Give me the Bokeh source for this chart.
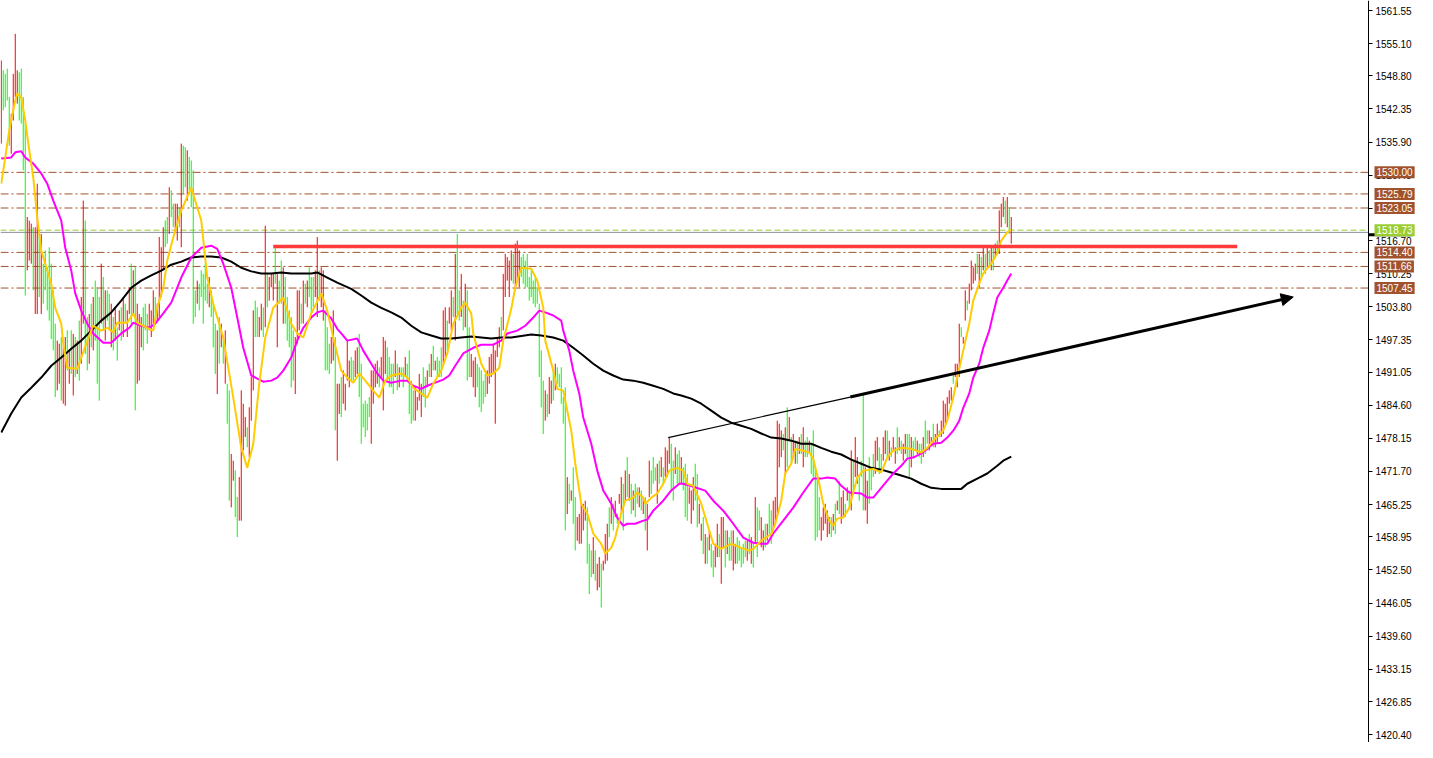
from bokeh.plotting import figure
from bokeh.models import Label, Arrow, NormalHead, FixedTicker, PrintfTickFormatter, Range1d
from bokeh.embed import file_html
from bokeh.resources import INLINE

# ---------------- data (prices) ----------------
bar_high = [
    1551.8, 1549.9, 1549.2, 1550.2, 1544.7, 1541.4, 1549.2, 1557.0, 1549.9, 1549.5,
    1550.2, 1544.7, 1539.5, 1521.3, 1520.6, 1520.0, 1519.3, 1519.3, 1527.8, 1518.7,
    1518.0, 1512.2, 1514.8, 1511.5, 1515.4, 1512.2, 1507.0, 1500.5, 1497.2, 1496.6,
    1497.9, 1495.9, 1497.9, 1499.2, 1495.3, 1499.2, 1498.5, 1497.9, 1497.2, 1501.1,
    1505.7, 1524.5, 1520.6, 1501.8, 1502.4, 1504.4, 1505.7, 1508.9, 1507.6, 1505.7,
    1512.2, 1509.6, 1507.0, 1507.0, 1506.3, 1504.4, 1501.8, 1503.7, 1499.8, 1503.1,
    1503.7, 1505.7, 1504.4, 1503.1, 1507.6, 1512.2, 1510.9, 1511.5, 1504.4, 1502.4,
    1501.8, 1503.7, 1504.4, 1502.4, 1504.4, 1503.1, 1507.0, 1505.7, 1504.4, 1517.4,
    1515.4, 1519.3, 1520.6, 1521.3, 1527.1,
    1526.5, 1523.9, 1523.9, 1523.9, 1523.2, 1535.6, 1535.2, 1534.9, 1534.3, 1533.0,
    1532.3, 1530.4, 1507.0, 1508.9, 1508.3, 1510.9, 1510.2, 1512.2, 1508.3, 1509.6,
    1507.0, 1504.4, 1500.5, 1499.2, 1501.8, 1500.5, 1497.2, 1499.2, 1488.8, 1487.5,
    1475.1, 1473.8, 1471.9, 1466.7, 1470.6, 1487.5, 1484.9, 1482.3, 1480.3, 1484.2,
    1490.1, 1503.1, 1505.0, 1503.7, 1501.8, 1504.4, 1503.7, 1519.6, 1510.2, 1509.6,
    1510.2, 1510.2, 1515.4, 1510.2, 1508.9, 1512.8, 1511.5, 1509.6, 1505.7, 1503.1,
    1501.8, 1499.2, 1497.9, 1507.0, 1507.0, 1504.4, 1508.9, 1508.3, 1508.9, 1511.5,
    1509.6, 1509.6, 1510.9, 1517.4, 1510.9, 1511.5, 1510.9, 1503.1, 1499.8, 1496.6,
    1497.9, 1503.1, 1497.9, 1488.8, 1488.8,
    1490.1, 1491.4, 1488.8, 1497.2, 1493.3, 1494.0, 1493.3, 1495.3, 1495.9, 1498.5,
    1492.7, 1484.9, 1485.5, 1484.9, 1486.2, 1491.4, 1491.4, 1492.7, 1493.3, 1492.0,
    1494.0, 1497.9, 1497.2, 1495.9, 1494.0, 1492.7, 1492.7, 1495.3, 1492.7, 1492.0,
    1492.0, 1492.0, 1494.0, 1492.7, 1495.3, 1489.4, 1487.5, 1488.1, 1486.2, 1490.7,
    1488.8, 1492.0, 1490.1, 1491.4, 1492.7, 1494.6, 1496.2, 1493.3, 1494.0, 1493.3,
    1495.9, 1503.1, 1503.7, 1501.1, 1503.7, 1507.0, 1505.7, 1514.1, 1518.0, 1507.0,
    1510.2, 1505.0, 1508.3, 1507.0, 1499.8, 1494.6, 1493.3, 1494.0, 1492.7, 1492.0,
    1491.4, 1489.4, 1490.7, 1491.4, 1494.0, 1494.6, 1496.6, 1495.3, 1497.9, 1499.8,
    1501.8, 1510.2, 1514.1, 1513.5, 1512.8,
    1514.8, 1514.1, 1516.1, 1516.7, 1514.8, 1513.5, 1514.1, 1512.8, 1514.1, 1509.6,
    1510.9, 1508.9, 1509.6, 1507.6, 1504.4, 1495.3, 1489.4, 1487.5, 1486.8, 1490.1,
    1489.4, 1491.4, 1492.7, 1492.0, 1490.7, 1492.0, 1486.2, 1488.1, 1470.6, 1469.3,
    1468.0, 1472.5, 1466.7, 1462.8, 1463.4, 1465.4, 1465.4, 1466.0, 1464.7, 1457.6,
    1456.3, 1458.9, 1456.3, 1453.7, 1455.0, 1453.7, 1454.3, 1459.5, 1461.5, 1464.7,
    1466.7, 1465.4, 1466.0, 1463.4, 1467.3, 1470.6, 1469.3, 1471.9, 1474.5, 1471.2,
    1469.3, 1468.0, 1469.3, 1468.6, 1468.6, 1468.0, 1466.7, 1466.7, 1465.4, 1473.8,
    1471.9, 1474.5, 1472.5, 1473.2, 1473.8, 1474.5, 1472.5, 1476.4, 1475.8, 1478.4,
    1477.1, 1473.8, 1476.4, 1475.1, 1475.8,
    1474.5, 1472.5, 1473.2, 1471.2, 1468.6, 1468.0, 1470.6, 1473.2, 1471.2, 1465.4,
    1461.5, 1462.8, 1459.5, 1458.9, 1460.2, 1457.6, 1456.3, 1457.6, 1461.5, 1459.5,
    1462.8, 1462.8, 1460.2, 1460.2, 1458.9, 1460.2, 1460.2, 1457.6, 1458.9, 1458.2,
    1456.9, 1457.6, 1458.2, 1458.2, 1459.5, 1458.9, 1457.6, 1466.7, 1464.7, 1464.1,
    1462.8, 1460.2, 1461.5, 1461.5, 1465.4, 1464.1, 1466.0, 1466.7, 1481.6, 1481.0,
    1479.7, 1479.0, 1480.3, 1484.2, 1482.3, 1478.4, 1479.0, 1477.7, 1477.7, 1478.4,
    1479.0, 1480.3, 1477.7, 1478.4, 1477.7, 1477.1, 1479.7, 1472.5, 1470.6, 1466.7,
    1462.8, 1464.7, 1465.4, 1464.1, 1462.8, 1462.8, 1463.4, 1465.4, 1466.0, 1469.9,
    1466.7, 1468.0, 1465.4, 1468.6, 1468.0,
    1475.8, 1473.8, 1478.4, 1474.5, 1470.6, 1473.8, 1486.8, 1472.5, 1469.9, 1474.5,
    1472.5, 1475.1, 1477.7, 1478.4, 1476.4, 1475.1, 1478.4, 1479.7, 1479.7, 1477.7,
    1476.4, 1478.4, 1476.4, 1480.3, 1478.4, 1477.7, 1477.1, 1479.0, 1479.0, 1479.0,
    1478.4, 1477.7, 1478.4, 1477.7, 1477.1, 1477.1, 1478.4, 1481.6, 1479.7, 1479.7,
    1478.4, 1481.0, 1479.0, 1481.0, 1479.7, 1481.6, 1485.5, 1484.9, 1486.2, 1487.5,
    1488.1, 1490.7, 1492.7, 1492.7, 1500.5, 1499.8, 1497.9, 1507.0, 1505.0, 1508.3,
    1512.8, 1511.5, 1512.2, 1514.1, 1514.1, 1513.5, 1515.4, 1514.1, 1515.4, 1514.8,
    1515.4, 1515.4, 1516.1, 1516.7, 1522.6, 1523.9, 1525.2, 1524.5, 1525.2, 1523.2,
    1521.3,
]

bar_low = [
    1535.6, 1542.1, 1542.7, 1544.0, 1535.2, 1533.6, 1540.1, 1544.7, 1543.4, 1540.1,
    1539.5, 1530.4, 1506.0, 1510.9, 1512.8, 1512.2, 1507.0, 1502.4, 1502.4, 1505.7,
    1502.4, 1504.4, 1507.0, 1503.1, 1501.1, 1497.5, 1495.3, 1486.2, 1487.5, 1488.8,
    1485.5, 1484.9, 1484.5, 1491.4, 1488.8, 1490.7, 1486.5, 1490.1, 1490.7, 1489.4,
    1492.7, 1500.5, 1494.6, 1491.4, 1492.7, 1495.9, 1495.3, 1497.2, 1488.8, 1485.5,
    1500.5, 1499.2, 1497.2, 1501.1, 1499.2, 1495.9, 1495.3, 1497.2, 1493.3, 1499.2,
    1497.2, 1497.9, 1500.5, 1497.9, 1502.4, 1500.5, 1502.4, 1483.6, 1488.8, 1489.4,
    1495.9, 1495.3, 1499.2, 1496.6, 1499.2, 1497.9, 1500.5, 1500.5, 1501.1, 1501.8,
    1505.7, 1510.9, 1515.4, 1516.1, 1518.0,
    1521.3, 1519.3, 1518.7, 1516.7, 1519.3, 1515.4, 1525.8, 1527.1, 1524.5, 1526.5,
    1523.2, 1500.5, 1501.8, 1504.4, 1503.1, 1505.7, 1500.5, 1505.0, 1504.4, 1503.7,
    1501.8, 1495.9, 1490.7, 1486.8, 1492.7, 1495.9, 1492.7, 1488.8, 1481.0, 1466.0,
    1464.7, 1469.9, 1462.8, 1458.9, 1462.1, 1462.1, 1475.8, 1478.4, 1476.4, 1474.5,
    1481.6, 1487.5, 1497.9, 1497.9, 1497.9, 1499.2, 1497.9, 1499.8, 1503.7, 1505.0,
    1507.6, 1505.0, 1508.3, 1495.9, 1504.4, 1504.4, 1500.5, 1500.5, 1497.2, 1495.9,
    1488.1, 1489.4, 1486.8, 1496.6, 1499.2, 1500.5, 1500.5, 1504.4, 1503.7, 1505.7,
    1501.8, 1503.7, 1505.7, 1501.8, 1505.0, 1503.7, 1501.1, 1491.4, 1491.4, 1490.7,
    1492.7, 1493.3, 1479.7, 1473.8, 1482.9,
    1482.3, 1484.9, 1483.6, 1489.4, 1488.1, 1489.4, 1489.4, 1490.1, 1490.7, 1486.2,
    1477.1, 1480.3, 1478.4, 1479.7, 1482.3, 1477.1, 1484.9, 1488.1, 1488.8, 1488.1,
    1490.1, 1483.6, 1490.7, 1489.4, 1488.1, 1488.1, 1486.8, 1490.1, 1487.5, 1488.1,
    1490.1, 1488.1, 1490.1, 1489.4, 1482.9, 1481.0, 1481.6, 1481.6, 1483.6, 1485.5,
    1482.3, 1486.2, 1484.2, 1488.1, 1490.1, 1490.1, 1491.4, 1491.4, 1490.1, 1490.1,
    1490.1, 1492.7, 1494.0, 1495.3, 1500.5, 1499.2, 1501.8, 1497.2, 1502.4, 1501.1,
    1501.8, 1499.2, 1499.8, 1489.4, 1490.1, 1490.1, 1488.1, 1486.2, 1488.1, 1484.2,
    1483.3, 1484.9, 1486.2, 1486.8, 1488.8, 1490.1, 1490.7, 1481.0, 1494.0, 1495.9,
    1497.9, 1499.2, 1505.7, 1508.9, 1505.7,
    1508.9, 1508.3, 1507.0, 1508.9, 1507.6, 1509.6, 1508.3, 1507.6, 1507.6, 1505.0,
    1505.7, 1504.4, 1503.7, 1504.4, 1490.1, 1484.2, 1479.0, 1481.6, 1482.3, 1482.9,
    1484.9, 1485.5, 1487.5, 1488.8, 1488.1, 1484.9, 1481.0, 1460.2, 1463.4, 1465.4,
    1466.0, 1461.5, 1456.3, 1458.2, 1457.6, 1457.6, 1460.2, 1462.1, 1453.7, 1447.8,
    1451.1, 1451.7, 1450.4, 1448.5, 1449.1, 1445.2, 1452.4, 1453.7, 1454.3, 1458.9,
    1461.5, 1460.2, 1462.8, 1461.5, 1465.4, 1463.4, 1460.2, 1466.0, 1466.7, 1466.0,
    1463.4, 1464.1, 1462.8, 1465.4, 1464.7, 1464.1, 1463.4, 1460.2, 1456.3, 1466.7,
    1467.3, 1469.3, 1469.9, 1465.4, 1469.3, 1470.6, 1469.3, 1470.6, 1470.6, 1473.2,
    1468.0, 1466.0, 1471.2, 1469.3, 1469.3,
    1469.3, 1468.0, 1462.8, 1462.1, 1465.4, 1461.5, 1464.1, 1466.0, 1460.8, 1461.5,
    1458.2, 1455.6, 1453.7, 1453.7, 1456.3, 1453.0, 1451.1, 1453.0, 1455.0, 1455.0,
    1449.8, 1456.9, 1453.0, 1455.6, 1454.3, 1454.3, 1452.4, 1453.7, 1453.7, 1454.3,
    1453.0, 1453.7, 1455.0, 1454.3, 1455.6, 1453.7, 1453.0, 1457.6, 1455.0, 1460.2,
    1456.9, 1456.3, 1456.9, 1458.2, 1459.5, 1457.6, 1460.2, 1461.5, 1462.8, 1472.5,
    1474.5, 1475.8, 1471.2, 1472.5, 1477.7, 1473.2, 1474.5, 1473.2, 1473.2, 1475.1,
    1475.1, 1472.5, 1474.5, 1474.5, 1475.1, 1471.2, 1470.6, 1458.2, 1458.9, 1460.2,
    1458.2, 1460.2, 1461.5, 1458.9, 1459.5, 1458.9, 1460.2, 1459.5, 1464.1, 1463.4,
    1461.5, 1462.8, 1462.8, 1466.0, 1464.7,
    1464.1, 1467.3, 1470.6, 1469.3, 1466.0, 1470.6, 1464.1, 1464.1, 1461.5, 1465.4,
    1468.0, 1470.6, 1471.2, 1473.8, 1471.2, 1471.9, 1473.8, 1475.1, 1474.5, 1473.8,
    1474.5, 1475.8, 1473.2, 1475.1, 1475.8, 1475.1, 1473.8, 1475.1, 1474.5, 1470.6,
    1472.5, 1474.5, 1475.8, 1475.1, 1474.5, 1473.2, 1474.5, 1475.1, 1477.1, 1475.8,
    1477.1, 1476.4, 1476.4, 1477.1, 1478.4, 1478.4, 1479.0, 1481.0, 1481.6, 1484.9,
    1485.5, 1488.8, 1490.1, 1488.1, 1490.1, 1497.9, 1496.6, 1501.1, 1503.1, 1504.4,
    1507.0, 1508.3, 1508.9, 1510.2, 1507.6, 1509.6, 1510.9, 1510.2, 1511.5, 1511.5,
    1510.9, 1510.9, 1513.5, 1514.1, 1514.1, 1519.3, 1521.3, 1520.0, 1519.3, 1518.0,
    1516.1,
]

# G = up bar (green), R = down bar (red)
bar_dir = (
    "RGGGGRRRRG" "GGGRRRGRRG" "RGGGGGGGRR" "GRRGRGRGRG" "RRGGRGRGGG" "RGRGGRGRGR" "GRGRRGRGRR" "RGGGRRRGRR" "RRGGR"
    "GGRRGRGGRG" "GGGRGGGGGR" "GGGRGRGRGG" "RRGGRRRRGR" "RRGGRRGRGR" "RRGRGGRGGG" "GGRRRGRGRG" "GGRRGRRGGG" "RRGRR"
    "GRRRRGGRRG" "GGGGGRRRRG" "RRRGGGGRGR" "GGRGGGGRRR" "RGGRGRGRGG" "GRRGRRGRGG" "RGRGGRRRGG" "GGGRRRRRRR" "GRRRR"
    "RGRRRGGGGG" "GGGGGGGRGR" "RGRGGGGGRG" "RGGRRRRRGG" "GRGRRGRRRG" "RGRGRRGRGR" "GRGGRGRGRR" "GGGRGRGRRR" "GGRGG"
    "RGGGRRRGGR" "RGRGRGGRRG" "RRGRGGRRGG" "GGGRGRGRGG" "RRGRGGRRRR" "RGRGRGRRGR" "GRGGRGGGGG" "RRRRRGRGRG" "RRGRG"
    "RGRRGGGRRG" "GGRRGGRRGR" "GRRGRGRRGG" "RGGRGGRGGR" "RGRRGRRRRR" "RGRRRGRRGR" "RRRGRGRGRG" "RGRGRRRGRG" "R"
)

# fast moving average (yellow)
ma_fast_x = [0, 2, 4, 7, 8, 10, 12, 14, 16, 18, 20, 22, 25, 27, 30, 31, 33, 38, 40, 43, 46, 50, 53, 56, 58, 63,
             66, 68, 73, 76, 78, 81, 83, 86, 90, 95, 100, 103, 106, 111, 116, 120, 123, 126, 129, 132, 136, 141,
             145, 148, 151, 155, 160, 163, 166, 170, 173, 176, 179, 182, 186, 189, 192, 195, 200, 203, 206, 210,
             213, 216, 220, 223, 226, 230, 232, 235, 236, 240, 243, 246, 249, 251, 255, 257, 260, 265, 268, 271,
             272, 276, 278, 281, 285, 287, 290, 293, 296, 300, 302, 305, 307, 310, 312, 316, 318, 321, 322, 325,
             328, 331, 334, 338, 341, 343, 346, 350, 353, 356, 360, 365, 370, 374, 376, 380, 385, 387, 390, 392,
             395, 397, 401, 404, 406, 409, 411, 414, 416, 418, 421, 424, 428, 431, 436, 440, 443, 446, 450, 455,
             460, 463, 466, 471, 473, 476, 478, 481, 484, 486, 489, 491, 495, 498, 500, 503, 505]
ma_fast_y = [1527.8, 1532.9, 1538.2, 1544.0, 1545.4, 1544.6, 1540.1, 1534.3, 1529.0, 1521.2, 1514.75, 1512.2,
             1508.3, 1503.6, 1500.5, 1496.6, 1491.9, 1491.7, 1493.9, 1497.2, 1500.1, 1499.15, 1499.7, 1498.8,
             1500.7, 1500.7, 1502.5, 1500.7, 1499.7, 1499.15, 1503.6, 1507.5, 1512.8, 1517.3, 1522.55, 1527.0,
             1520.6, 1509.5, 1504.4, 1497.8, 1486.1, 1476.3, 1472.4, 1477.1, 1488.8, 1497.8, 1503.6, 1505.6,
             1500.5, 1498.6, 1497.8, 1502.5, 1506.4, 1503.05, 1497.8, 1491.35, 1490.0, 1489.0, 1490.8, 1489.4,
             1487.45, 1486.1, 1489.4, 1490.4, 1490.8, 1490.0, 1488.0, 1486.9, 1486.1, 1488.8, 1491.35, 1494.7,
             1500.5, 1503.6, 1504.6, 1502.5, 1498.6, 1492.7, 1490.4, 1490.8, 1491.9, 1497.2, 1503.4, 1507.5,
             1511.4, 1511.2, 1508.9, 1503.6, 1497.2, 1491.35, 1487.8, 1487.45, 1479.65, 1473.2, 1465.4, 1463.5,
             1459.6, 1457.6, 1455.7, 1456.8, 1458.8, 1463.5, 1466.0, 1466.6, 1467.6, 1466.6, 1465.4, 1466.6,
             1467.4, 1469.3, 1471.85, 1472.4, 1471.85, 1469.3, 1468.9, 1465.4, 1461.5, 1457.6, 1456.6, 1457.6,
             1456.8, 1456.25, 1456.6, 1458.2, 1459.5, 1461.5, 1466.0, 1471.3, 1473.2, 1476.1, 1475.75, 1475.4,
             1474.2, 1469.3, 1465.4, 1462.1, 1461.1, 1462.5, 1462.7, 1464.6, 1470.5, 1471.85, 1472.2, 1471.5,
             1474.4, 1475.75, 1476.3, 1476.1, 1475.4, 1476.3, 1477.7, 1479.65, 1481.6, 1486.1, 1490.0, 1495.25,
             1500.5, 1505.0, 1508.3, 1510.3, 1512.2, 1514.2, 1516.7, 1518.3, 1518.85]

# medium moving average (magenta)
ma_mid_x = [0, 5, 7, 10, 12, 16, 20, 23, 26, 30, 32, 35, 37, 40, 43, 46, 51, 55, 60, 64, 66, 70, 74, 77, 81, 85,
            90, 95, 100, 105, 108, 111, 115, 118, 121, 125, 128, 131, 135, 138, 141, 145, 148, 151, 155, 158, 161,
            165, 168, 170, 173, 178, 181, 185, 188, 191, 195, 200, 203, 206, 210, 213, 217, 221, 224, 227, 231,
            236, 240, 246, 250, 253, 258, 262, 266, 269, 272, 276, 280, 281, 284, 286, 289, 291, 295, 298, 301,
            305, 308, 311, 313, 317, 321, 323, 326, 331, 335, 339, 341, 346, 352, 356, 361, 366, 371, 376, 380,
            383, 386, 391, 396, 401, 406, 410, 413, 417, 420, 424, 430, 433, 436, 440, 443, 446, 450, 453, 456,
            460, 463, 466, 470, 473, 476, 479, 481, 484, 486, 489, 491, 494, 496, 498, 501, 503, 505]
ma_mid_y = [1532.7, 1532.9, 1533.9, 1534.1, 1532.9, 1531.7, 1529.8, 1527.8, 1524.5, 1520.6, 1515.3, 1510.85,
            1506.4, 1503.05, 1500.5, 1498.6, 1496.8, 1496.8, 1498.6, 1499.7, 1500.7, 1500.1, 1499.7, 1500.5,
            1502.5, 1504.6, 1509.5, 1513.4, 1515.3, 1515.7, 1515.1, 1512.2, 1507.5, 1501.7, 1495.8, 1490.4,
            1489.8, 1489.2, 1489.4, 1490.0, 1491.35, 1493.9, 1497.2, 1499.7, 1501.7, 1502.7, 1503.05, 1501.5,
            1499.5, 1498.6, 1497.2, 1497.6, 1495.25, 1492.7, 1490.8, 1489.4, 1489.0, 1489.4, 1489.4, 1488.4,
            1487.8, 1488.4, 1489.0, 1489.6, 1490.4, 1492.3, 1494.7, 1495.8, 1496.4, 1496.4, 1497.2, 1498.6,
            1499.15, 1500.1, 1501.7, 1503.05, 1502.7, 1502.1, 1501.1, 1499.15, 1495.25, 1491.35, 1486.9, 1482.2,
            1477.1, 1471.85, 1468.0, 1465.4, 1462.7, 1461.1, 1461.5, 1461.5, 1462.1, 1462.3, 1464.05, 1466.0,
            1468.0, 1469.3, 1469.3, 1468.7, 1467.95, 1466.0, 1464.05, 1461.5, 1458.8, 1457.8, 1457.6, 1457.6,
            1459.6, 1462.1, 1464.65, 1467.6, 1470.3, 1470.3, 1470.5, 1470.3, 1468.9, 1467.6, 1467.4, 1466.6,
            1466.6, 1468.5, 1469.9, 1471.3, 1472.8, 1474.2, 1474.4, 1475.2, 1476.1, 1477.1, 1477.3, 1478.3,
            1479.65, 1481.6, 1484.1, 1486.9, 1490.0, 1492.7, 1495.8, 1499.15, 1502.5, 1505.6, 1507.5, 1508.9,
            1510.3]

# slow moving average (black)
ma_slow_x = [0, 5, 10, 15, 20, 25, 30, 35, 40, 45, 50, 55, 60, 65, 70, 75, 80, 85, 90, 95, 100, 105, 110, 115,
             120, 125, 130, 135, 140, 145, 150, 155, 158, 163, 168, 175, 180, 185, 190, 195, 200, 205, 210, 215,
             220, 225, 230, 235, 240, 245, 250, 255, 265, 270, 276, 281, 286, 291, 296, 301, 306, 311, 316, 321,
             326, 331, 336, 340, 345, 350, 355, 360, 365, 370, 375, 380, 385, 390, 395, 400, 405, 410, 415, 420,
             425, 430, 435, 440, 445, 450, 455, 460, 465, 470, 475, 480, 483, 488, 493, 498, 501, 505]
ma_slow_y = [1479.3, 1483.0, 1486.1, 1488.0, 1490.0, 1492.3, 1493.9, 1495.6, 1497.2, 1499.15, 1501.1, 1502.7,
             1505.0, 1507.5, 1508.9, 1509.9, 1510.85, 1512.0, 1512.6, 1513.4, 1513.6, 1513.6, 1513.4, 1512.6,
             1511.4, 1510.7, 1510.3, 1510.3, 1510.5, 1510.3, 1510.3, 1510.3, 1510.5, 1509.5, 1508.5, 1507.3,
             1506.0, 1504.6, 1503.6, 1502.7, 1501.7, 1500.1, 1498.8, 1498.2, 1497.6, 1497.6, 1497.8, 1498.0,
             1497.8, 1497.6, 1497.8, 1497.8, 1498.4, 1498.2, 1497.8, 1497.2, 1495.8, 1494.3, 1492.7, 1491.35,
             1490.4, 1489.6, 1489.4, 1489.0, 1488.4, 1487.8, 1486.9, 1486.5, 1485.9, 1484.9, 1483.55, 1482.2,
             1481.2, 1480.6, 1480.0, 1479.1, 1478.3, 1478.1, 1477.7, 1477.1, 1477.1, 1476.3, 1475.55, 1475.0,
             1474.0, 1473.2, 1472.4, 1472.05, 1471.5, 1470.9, 1470.3, 1469.3, 1468.5, 1468.3, 1468.3, 1468.3,
             1469.3, 1470.3, 1471.3, 1472.8, 1473.8, 1474.6]

# horizontal levels and drawn objects
level_prices = [1530.00, 1525.79, 1523.05, 1514.40, 1511.66, 1507.45]
bid_price = 1518.73
ask_line = 1518.30
ask_mark = 1517.85
resistance = 1515.55
resistance_from, resistance_to = 136, 618
trend_start = (333.5, 1478.3)
trend_mid = (424.5, 1486.2)
trend_end = (646.0, 1505.7)

tick_values = [1420.40, 1426.85, 1433.15, 1439.60, 1446.05, 1452.50, 1458.95, 1465.25, 1471.70, 1478.15,
               1484.60, 1491.05, 1497.35, 1503.80, 1510.25, 1516.70, 1523.00, 1529.45, 1535.90, 1542.35,
               1548.80, 1555.10, 1561.55]

# ---------------- figure ----------------
FONT = "Liberation Sans"
FSIZE = "10px"
LEVEL_COLOR = "#A0522D"

n = min(len(bar_high), len(bar_low), len(bar_dir))
idx = list(range(n))
colors = ["#00FF00" if c == "G" else "#FF0000" for c in bar_dir[:n]]

FW = 1416              # frame covers whole canvas; 2 px per bar
x_start = -0.375
x_end = x_start + FW / 2.0
axis_x = x_start + 1368 / 2.0   # where the price scale sits

p = figure(frame_width=FW, frame_height=742,
           x_range=Range1d(x_start, x_end),
           y_range=Range1d(1563.5 - 742 / 5.13, 1563.5),
           output_backend="svg", toolbar_location=None,
           y_axis_location="right", x_axis_location=None,
           min_border=0, outline_line_color=None,
           background_fill_color="white", border_fill_color="white")
p.grid.visible = False

ax = p.yaxis[0]
ax.fixed_location = axis_x
ax.ticker = FixedTicker(ticks=tick_values)
ax.formatter = PrintfTickFormatter(format="%.2f")
ax.axis_line_color = "black"
ax.axis_line_width = 1
ax.major_tick_line_color = "black"
ax.major_tick_out = 4
ax.major_tick_in = 0
ax.minor_tick_line_color = None
ax.major_label_text_font = FONT
ax.major_label_text_font_size = FSIZE
ax.major_label_text_color = "black"
ax.major_label_standoff = 3

# level lines (up to the price scale)
for lv in level_prices:
    p.line([x_start, axis_x], [lv, lv], line_color=LEVEL_COLOR, line_dash="8 3 2 3", line_width=1)
p.line([x_start, axis_x], [bid_price, bid_price], line_color="#9ACD32", line_dash="6 3", line_width=1)
p.line([x_start, axis_x], [ask_line, ask_line], line_color="#8A8FA0", line_width=1)

# bars
p.segment(x0=idx, y0=bar_low[:n], x1=idx, y1=bar_high[:n], line_color=colors, line_width=1)

# moving averages
p.line(ma_slow_x, ma_slow_y, line_color="black", line_width=2)
p.line(ma_mid_x, ma_mid_y, line_color="#FF00FF", line_width=2)
p.line(ma_fast_x, ma_fast_y, line_color="#FFCC00", line_width=2)

# resistance line
p.line([resistance_from, resistance_to], [resistance, resistance], line_color="#FF3B3B", line_width=3.5)

# trend line + arrow
p.line([trend_start[0], trend_mid[0]], [trend_start[1], trend_mid[1]], line_color="black", line_width=1.2)
p.add_layout(Arrow(end=NormalHead(size=12, fill_color="black", line_color="black"),
                   x_start=trend_mid[0], y_start=trend_mid[1], x_end=trend_end[0], y_end=trend_end[1],
                   line_color="black", line_width=3))

# black mark on the price scale just below the bid tag
p.line([axis_x, axis_x + 22], [ask_mark, ask_mark], line_color="black", line_width=3)

# price tags on the price scale
for lv in level_prices:
    p.add_layout(Label(x=axis_x, y=lv, x_offset=6, text=f"{lv:.2f}", text_align="left",
                       text_baseline="middle", text_color="white", text_font=FONT,
                       text_font_size=FSIZE, background_fill_color=LEVEL_COLOR, padding=2))
p.add_layout(Label(x=axis_x, y=bid_price, x_offset=6, text=f"{bid_price:.2f}", text_align="left",
                   text_baseline="middle", text_color="white", text_font=FONT,
                   text_font_size=FSIZE, background_fill_color="#9ACD32", padding=2))

open("out.html", "w").write(file_html(p, INLINE))
